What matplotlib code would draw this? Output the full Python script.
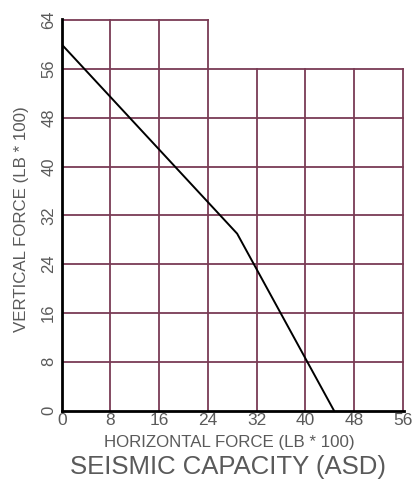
import matplotlib.pyplot as plt

plt.rcParams['font.family'] = ['Liberation Sans', 'DejaVu Sans']

# capacity curve
horiz = [0, 28.8, 44.7]
vert = [60, 29, 0]

x_ticks = [0, 8, 16, 24, 32, 40, 48, 56]
y_ticks = [0, 8, 16, 24, 32, 40, 48, 56, 64]

grid_col = '#7a3b55'
text_col = '#5a5a5a'

fig = plt.figure(figsize=(4.17, 4.82), dpi=100)
ax = fig.add_axes([0.148, 0.148, 0.821, 0.813])

# grid: full up to 56, top row only out to 24
for x in x_ticks[1:]:
    top = 64 if x <= 24 else 56
    ax.plot([x, x], [0, top], color=grid_col, lw=1.3, zorder=1)
for y in y_ticks[1:]:
    right = 24 if y == 64 else 56
    ax.plot([0, right], [y, y], color=grid_col, lw=1.3, zorder=1)

ax.plot(horiz, vert, color='black', lw=1.4, zorder=3)

ax.set_xlim(0, 56.2)
ax.set_ylim(0, 64.2)
for s in ['top', 'right']:
    ax.spines[s].set_visible(False)
for s in ['left', 'bottom']:
    ax.spines[s].set_linewidth(2)
    ax.spines[s].set_zorder(4)

ax.set_xticks(x_ticks)
ax.set_yticks(y_ticks)
ax.tick_params(axis='x', length=0, labelsize=12.5, labelcolor=text_col, pad=2)
ax.tick_params(axis='y', length=0, labelsize=12, labelcolor=text_col, pad=4)
plt.setp(ax.get_yticklabels(), rotation=90, va='center')

fig.text(0.55, 0.081, 'HORIZONTAL FORCE (LB * 100)', fontsize=12.2, color=text_col,
         ha='center', va='center')
fig.text(0.052, 0.545, 'VERTICAL FORCE (LB * 100)', fontsize=12.2, color=text_col,
         ha='center', va='center', rotation=90)
fig.text(0.547, 0.031, 'SEISMIC CAPACITY (ASD)', fontsize=18.5, color=text_col,
         ha='center', va='center')

fig.savefig('out.png', dpi=100)
